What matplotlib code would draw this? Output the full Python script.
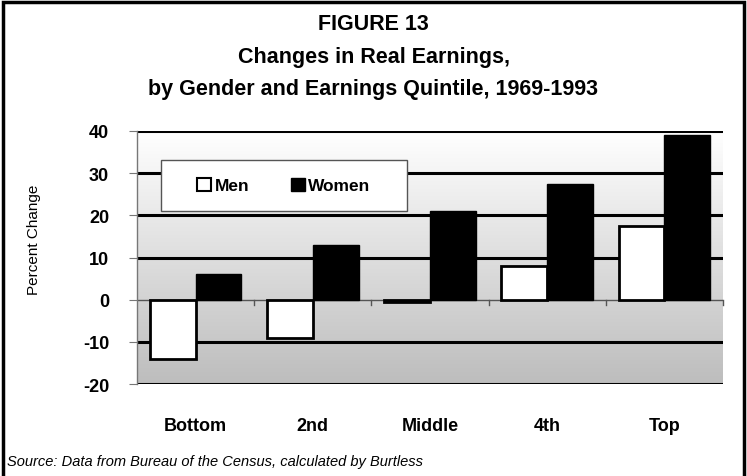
import numpy as np
import matplotlib
matplotlib.use("Agg")
import matplotlib.pyplot as plt
from matplotlib.patches import Rectangle
from matplotlib.colors import LinearSegmentedColormap

categories = ["Bottom", "2nd", "Middle", "4th", "Top"]
men = [-14, -9, -0.5, 8, 17.5]
women = [6, 13, 21, 27.5, 39]
yticks = [-20, -10, 0, 10, 20, 30, 40]

plt.rcParams["font.family"] = ["Liberation Sans", "DejaVu Sans"]

fig = plt.figure(figsize=(7.47, 4.77), dpi=100)
W, H = 747, 477
L, R, T, B = 137, 723, 132, 385
ax = fig.add_axes([L / W, 1 - B / H, (R - L) / W, (B - T) / H])

def ax_x(px):
    return (px - L) / (R - L)

def ax_y(py):
    return 1 - (py - T) / (B - T)

x = np.arange(len(categories))
bw = 0.39
ax.set_xlim(-0.5, len(categories) - 0.5)
ax.set_ylim(-20, 40)

# gradient background
cmap = LinearSegmentedColormap.from_list("g", ["#bdbdbd", "#ffffff"])
ax.imshow(np.linspace(1, 0, 256).reshape(-1, 1), aspect="auto", cmap=cmap,
          extent=[-0.5, len(categories) - 0.5, -20, 40], origin="upper", zorder=0,
          vmin=0, vmax=1)

for yv in [-20, -10, 10, 20, 30, 40]:
    ax.axhline(yv, color="black", lw=2.2, zorder=1)
ax.axhline(0, color="#555555", lw=1.0, zorder=1)

ax.bar(x - bw / 2, men, width=bw, color="white", edgecolor="black", lw=2, zorder=3, label="Men")
ax.bar(x + bw / 2, women, width=bw, color="black", edgecolor="black", lw=1, zorder=3, label="Women")

# small ticks on the zero line at category boundaries
for b in np.arange(0.5, len(categories), 1.0):
    ax.plot([b, b], [0, -1.3], color="#555555", lw=1, zorder=2, clip_on=False)

for s in ["top", "right", "bottom"]:
    ax.spines[s].set_visible(False)
ax.spines["left"].set_color("#777777")
ax.spines["left"].set_linewidth(1)

ax.set_yticks(yticks)
ax.set_yticklabels([str(v) for v in yticks], fontsize=13, fontweight="bold")
ax.tick_params(axis="y", length=6, color="#777777", pad=14)
ax.set_xticks(x)
ax.set_xticklabels(categories, fontsize=13, fontweight="bold")
ax.tick_params(axis="x", length=0, pad=24)

fig.text(34 / W, 1 - 240 / H, "Percent Change", rotation=90, ha="center", va="center", fontsize=11)

# legend box
bx0, bx1, by0, by1 = 161, 407, 161, 212
ax.add_patch(Rectangle((ax_x(bx0), ax_y(by1)), ax_x(bx1) - ax_x(bx0), ax_y(by0) - ax_y(by1),
                       transform=ax.transAxes, facecolor="white", edgecolor="#555555",
                       lw=1, zorder=4))
leg = ax.legend(loc="center", bbox_to_anchor=(ax_x((bx0 + bx1) / 2), ax_y((by0 + by1) / 2)),
                ncol=2, frameon=False, handlelength=0.8, handleheight=0.8,
                handletextpad=0.2, columnspacing=2.4, borderpad=0,
                prop={"size": 12.5, "weight": "bold"}, borderaxespad=0)
leg.set_zorder(5)
leg.legend_handles[0].set_linewidth(1.5)

fig.text(0.5, 1 - 25 / H, "FIGURE 13", ha="center", va="center", fontsize=15.5, fontweight="bold")
fig.text(0.5, 1 - 57 / H, "Changes in Real Earnings,", ha="center", va="center", fontsize=15.5, fontweight="bold")
fig.text(0.5, 1 - 90 / H, "by Gender and Earnings Quintile, 1969-1993", ha="center", va="center", fontsize=15.5, fontweight="bold")

fig.text(7 / W, 1 - 462 / H, "Source: Data from Bureau of the Census, calculated by Burtless",
         ha="left", va="center", fontsize=10.5, style="italic")

fig.patches.append(Rectangle((3 / W, -0.1), (W - 6) / W, 1.1 - 3 / H, transform=fig.transFigure,
                             fill=False, edgecolor="black", lw=2.5))

fig.savefig("out.png", dpi=100)
